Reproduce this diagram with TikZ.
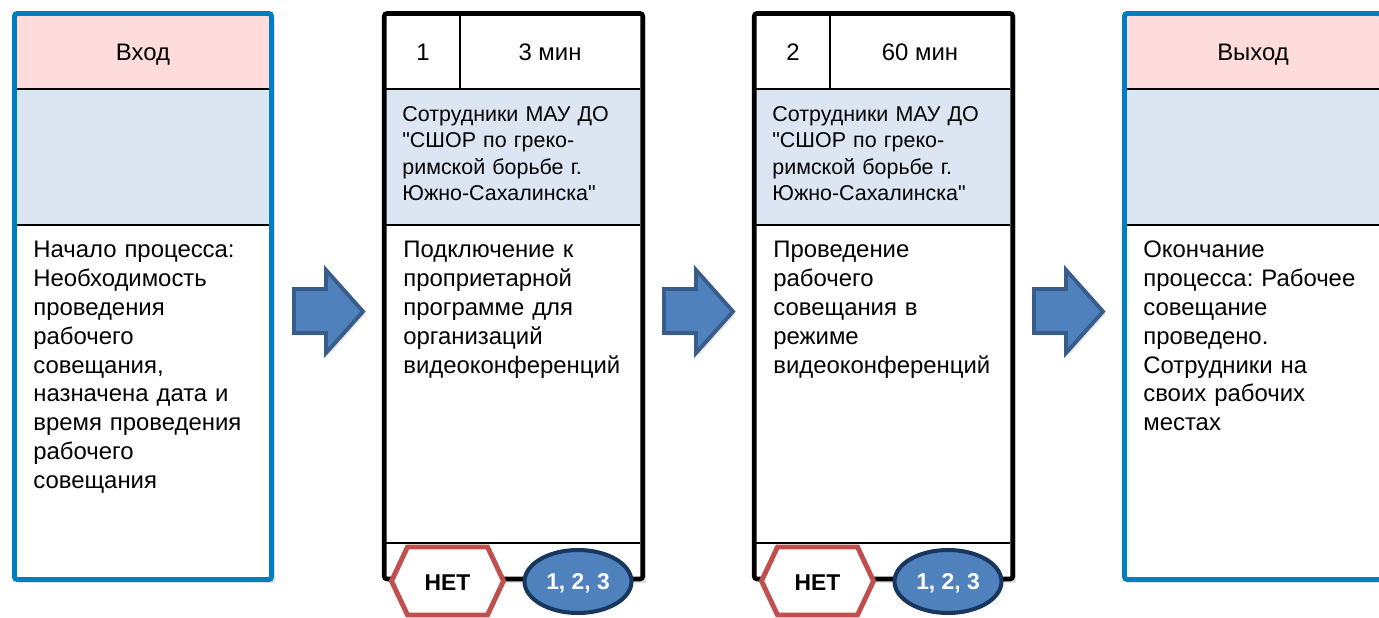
\documentclass[tikz,border=0pt]{standalone}
\usepackage{fontspec}
\setmainfont{Liberation Sans}[Ligatures=TeXOff]
\usetikzlibrary{shapes.geometric,shadows}
\frenchspacing

\definecolor{inpink}{RGB}{255,220,220}
\definecolor{rolebg}{RGB}{220,230,242}
\definecolor{edgeblue}{RGB}{0,126,194}
\definecolor{arrowfill}{RGB}{79,129,189}
\definecolor{arrowline}{RGB}{56,93,138}
\definecolor{refdark}{RGB}{23,55,94}
\definecolor{nored}{RGB}{192,80,77}

\begin{document}
\begin{tikzpicture}[x=0.02cm,y=-0.02cm,
	colback/.style={fill=white,drop shadow={shadow xshift=2pt,shadow yshift=-2pt,opacity=0.25}},
	ioframe/.style={draw=edgeblue,line width=2.8pt,rounded corners=1.5pt},
	stepframe/.style={draw=black,line width=2.6pt,rounded corners=1.5pt},
	rowline/.style={draw=black,line width=0.85pt},
	headtext/.style={anchor=base,inner sep=0pt,font={\fontsize{13.6}{16.44}\selectfont}},
	bodytext/.style={anchor=north west,inner sep=0pt,text width=4.8cm,align=left,font={\fontsize{13.6}{16.44}\selectfont}},
	roletext/.style={anchor=north west,inner sep=0pt,text width=4.8cm,align=left,font={\fontsize{12.2}{14.9}\selectfont}},
	blockarrow/.style={fill=arrowfill,draw=arrowline,line width=2.2pt,line join=miter,drop shadow={shadow xshift=1.5pt,shadow yshift=-1.5pt,opacity=0.2}},
	nobadge/.style={fill=white,draw=nored,line width=2.8pt,line join=miter},
	badgetext/.style={anchor=base,inner sep=0pt,font={\fontsize{13}{15}\selectfont\bfseries}},
	refbadge/.style={ellipse,fill=arrowfill,draw=refdark,line width=2.3pt,minimum width=2.14cm,minimum height=1.26cm,inner sep=0pt,text depth=0pt,text=white,font={\fontsize{13}{15}\selectfont\bfseries}}]
	\useasboundingbox (0,0) rectangle (1379,618);
	\clip (0,0) rectangle (1379,618);

	% input / output columns
	\foreach \L in {12,1122}{
		\path[colback] (\L+2.5,13.5) rectangle (\L+259.5,579.5);
		\fill[inpink] (\L+5,16) rectangle (\L+257,89);
		\fill[rolebg] (\L+5,89) rectangle (\L+257,225);
		\draw[rowline] (\L+5,89) -- (\L+257,89) (\L+5,225) -- (\L+257,225);
		\draw[ioframe] (\L+2.5,13.5) rectangle (\L+259.5,579.5);
	}
	% process steps
	\foreach \L in {382,752}{
		\path[colback] (\L+2.25,13.5) rectangle (\L+260.75,579);
		\fill[rolebg] (\L+4,89) rectangle (\L+258,225);
		\draw[rowline] (\L+4,89) -- (\L+258,89) (\L+4,225) -- (\L+258,225) (\L+4,543) -- (\L+258,543) (\L+78,16) -- (\L+78,89);
		\draw[stepframe] (\L+2.25,13.5) rectangle (\L+260.75,579);
	}
	% arrows between columns
	\foreach \d in {0,370,740}
		\draw[blockarrow] (294+\d,289) -- (326+\d,289) -- (326+\d,270) -- (363+\d,311.5) -- (326+\d,353) -- (326+\d,333) -- (294+\d,333) -- cycle;

	\node[headtext] (in) at (143,61) {Вход};
	\node[headtext] (out) at (1253,61) {Выход};
	\node[headtext] (num1) at (423,61) {1};
	\node[headtext] (time1) at (550,61) {3 мин};
	\node[headtext] (num2) at (793,61) {2};
	\node[headtext] (time2) at (920,61) {60 мин};

	\node[roletext] (who1) at (402,103) {\strut Сотрудники МАУ ДО\\"СШОР по греко-\\римской борьбе г.\\Южно-Сахалинска"};
	\node[roletext] (who2) at (772,103) {\strut Сотрудники МАУ ДО\\"СШОР по греко-\\римской борьбе г.\\Южно-Сахалинска"};

	\node[bodytext] (start) at (33,237) {\strut Начало процесса:\\Необходимость\\проведения\\рабочего\\совещания,\\назначена дата и\\время проведения\\рабочего\\совещания};
	\node[bodytext] (step1) at (403,237) {\strut Подключение к\\проприетарной\\программе для\\организаций\\видеоконференций};
	\node[bodytext] (step2) at (773,237) {\strut Проведение\\рабочего\\совещания в\\режиме\\видеоконференций};
	\node[bodytext] (finish) at (1143,237) {\strut Окончание\\процесса: Рабочее\\совещание\\проведено.\\Сотрудники на\\своих рабочих\\местах};

	% badges under the steps
	\foreach \c/\k in {447.5/1,817.5/2}{
		\filldraw[nobadge] (\c-56,581) -- (\c-40,547) -- (\c+40,547) -- (\c+56,581) -- (\c+40,615) -- (\c-40,615) -- cycle;
		\node[badgetext] (no\k) at (\c,590) {НЕТ};
		\node[refbadge] (refs\k) at (\c+130.5,581.5) {1, 2, 3};
	}
\end{tikzpicture}
\end{document}
